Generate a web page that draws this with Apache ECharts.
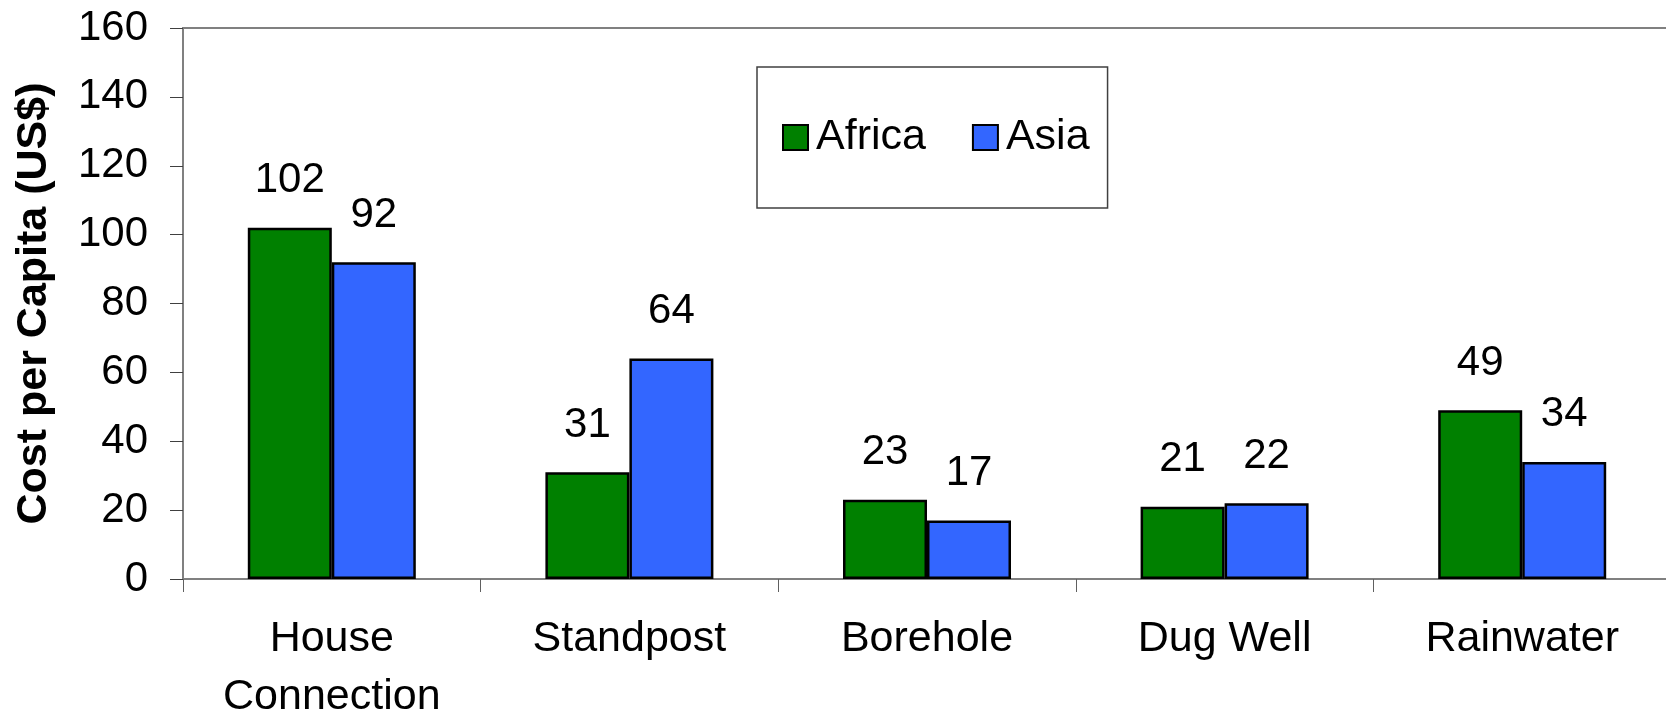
<!DOCTYPE html>
<html>
<head>
<meta charset="utf-8">
<script src="https://cdn.jsdelivr.net/npm/echarts@6/dist/echarts.min.js"></script>
<style>
  html, body { margin: 0; padding: 0; background: #fff; }
  #chart { width: 1666px; height: 714px; }
</style>
</head>
<body>
<div id="chart"></div>
<script>
const categories = ["House\nConnection", "Standpost", "Borehole", "Dug Well", "Rainwater"];
const africa = [102, 31, 23, 21, 49];
const asia = [92, 64, 17, 22, 34];
const yTicks = [0, 20, 40, 60, 80, 100, 120, 140, 160];

const font = "'Liberation Sans', Arial, sans-serif";

const chart = echarts.init(document.getElementById("chart"));

const valueLabel = {
  show: true,
  position: "top",
  distance: 26,
  color: "#000",
  fontSize: 42,
  fontFamily: font,
};

chart.setOption({
  animation: false,
  textStyle: { fontFamily: font },
  grid: {
    left: 183,
    top: 28,
    width: 1488,
    height: 551,
    outerBoundsMode: "none",
    containLabel: false,
    show: true,
    borderColor: "#808080",
    borderWidth: 2,
    backgroundColor: "#fff",
  },
  legend: {
    data: ["Africa", "Asia"],
    left: 757,
    top: 67,
    padding: [49, 18, 49, 25],
    itemWidth: 25,
    itemHeight: 25,
    itemGap: 46,
    borderColor: "#404040",
    borderWidth: 1.5,
    icon: "rect",
    textStyle: { fontSize: 43, color: "#000", fontFamily: font, padding: [0, 0, 0, 3] },
  },
  xAxis: {
    type: "category",
    data: categories,
    axisLine: { lineStyle: { color: "#808080", width: 2 } },
    axisTick: { show: true, length: 13, lineStyle: { color: "#606060", width: 1 } },
    axisLabel: {
      color: "#000",
      fontSize: 43,
      lineHeight: 58,
      margin: 31,
      fontFamily: font,
    },
  },
  yAxis: {
    type: "value",
    min: yTicks[0],
    max: yTicks[yTicks.length - 1],
    interval: 20,
    name: "Cost per Capita (US$)",
    nameLocation: "middle",
    nameGap: 127,
    nameTextStyle: { fontSize: 43, fontWeight: "bold", color: "#000", fontFamily: font },
    axisLine: { show: true, lineStyle: { color: "#808080", width: 2 } },
    axisTick: { show: true, length: 13, lineStyle: { color: "#404040", width: 1 } },
    splitLine: { show: false },
    axisLabel: { color: "#000", fontSize: 42, margin: 35, fontFamily: font },
  },
  series: [
    {
      name: "Africa",
      type: "bar",
      data: africa,
      barWidth: 84,
      barGap: "0%",
      itemStyle: { color: "#008000", borderColor: "#000", borderWidth: 2.5 },
      label: valueLabel,
    },
    {
      name: "Asia",
      type: "bar",
      data: asia,
      barWidth: 84,
      itemStyle: { color: "#3366ff", borderColor: "#000", borderWidth: 2.5 },
      label: valueLabel,
    },
  ],
});

window.addEventListener("resize", () => chart.resize());
</script>
</body>
</html>
